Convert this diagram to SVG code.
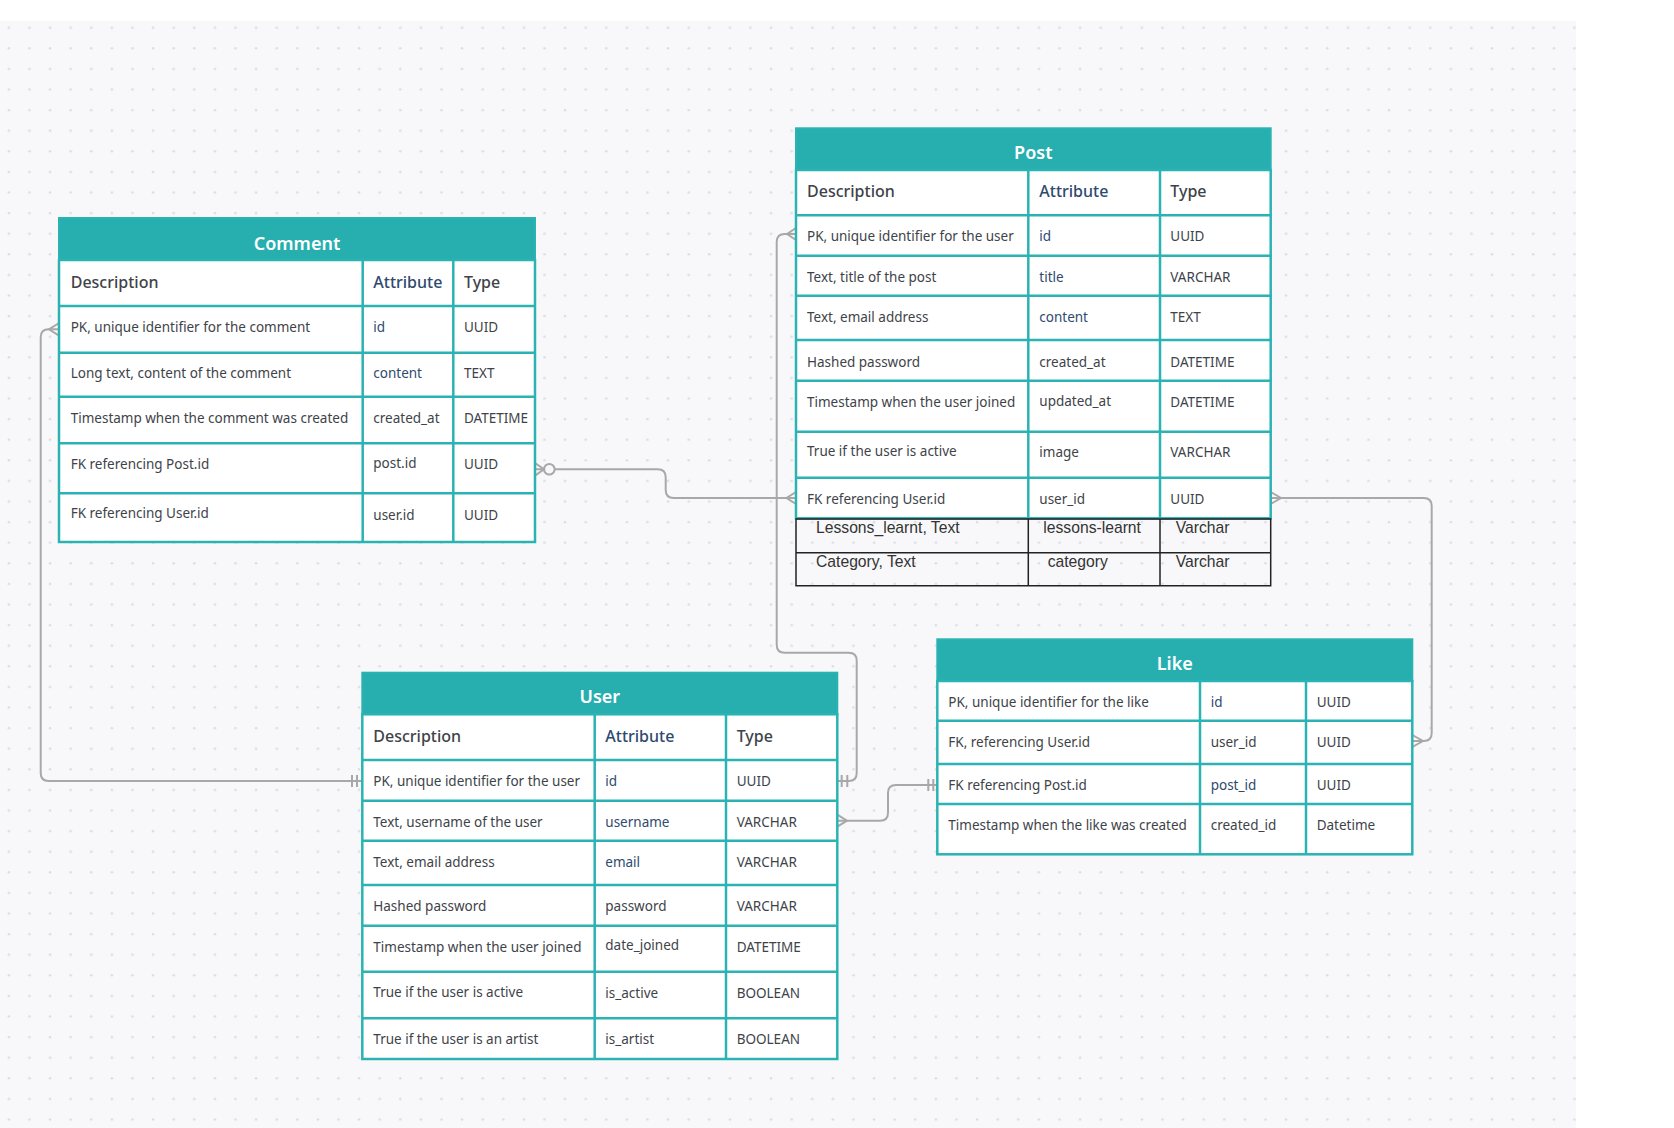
<svg xmlns="http://www.w3.org/2000/svg" width="1674" height="1128" viewBox="0 0 1674 1128">
<defs>
<pattern id="dots" x="0" y="0" width="20.6" height="20.6" patternUnits="userSpaceOnUse">
<circle cx="8.9" cy="7.1" r="1.3" fill="#dcdde3"/>
</pattern>
<style>
.hdr{fill:#27afaf;stroke:#2bb3b3;stroke-width:2}
.body{fill:#ffffff;stroke:#2bb3b3;stroke-width:2.5}
.grid{stroke:#2bb3b3;stroke-width:2.5;fill:none}
.blk{stroke:#222;stroke-width:1.5;fill:none}
.title{font-family:"Noto Sans","Open Sans",sans-serif;font-size:18px;font-weight:600;fill:#ffffff;text-anchor:middle}
.th{font-family:"Noto Sans","Open Sans",sans-serif;font-size:16px;font-weight:500;fill:#3e4349}
.td{font-family:"Noto Sans","Open Sans",sans-serif;font-size:13.5px;fill:#3e4349}
.b{fill:#2e4a6e}
.ar{font-family:"Liberation Sans",Arial,sans-serif;font-size:15.7px;fill:#333}
.conn{fill:none;stroke:#a8a8a8;stroke-width:2}
</style>
</defs>
<rect x="0" y="0" width="1674" height="1128" fill="#ffffff"/>
<rect x="0" y="20.7" width="1576" height="1108" fill="#f8f8fa"/>
<rect x="0" y="20.7" width="1576" height="1108" fill="url(#dots)"/>

<g id="connectors">
<!-- Comment.id - User.id -->
<path class="conn" d="M59,329.3 H48.7 Q40.7,329.3 40.7,337.3 V773 Q40.7,781 48.7,781 H362.3"/>
<path class="conn" d="M59,323 L49,329.3 L59,335.6"/>
<path class="conn" d="M352,775 V787 M357,775 V787"/>
<!-- Comment.post_id - Post.user_id -->
<path class="conn" d="M535,469.3 H544 M554.6,469.3 H657.7 Q665.7,469.3 665.7,477.3 V490 Q665.7,498 673.7,498 H796"/>
<path class="conn" d="M535,463 L544,469.3 L535,475.6"/>
<circle class="conn" cx="549.3" cy="469.3" r="5.3"/>
<path class="conn" d="M796,492 L786.5,498 L796,504"/>
<!-- Post.id - User.id -->
<path class="conn" d="M796,234 H784.7 Q776.7,234 776.7,242 V644.7 Q776.7,652.7 784.7,652.7 H848.7 Q856.7,652.7 856.7,660.7 V773 Q856.7,781 848.7,781 H837.3"/>
<path class="conn" d="M796,228 L787,234 L796,240"/>
<path class="conn" d="M841.7,775 V787 M847.3,775 V787"/>
<!-- User.username - Like.post_id -->
<path class="conn" d="M837.3,820.7 H880 Q888,820.7 888,812.7 V793 Q888,785 896,785 H937.3"/>
<path class="conn" d="M837.3,814.7 L847,820.7 L837.3,826.7"/>
<path class="conn" d="M928.3,779 V791 M933.3,779 V791"/>
<!-- Post.user_id - Like.user_id -->
<path class="conn" d="M1270.7,498 H1423.7 Q1431.7,498 1431.7,506 V733 Q1431.7,741 1423.7,741 H1412.3"/>
<path class="conn" d="M1270.7,492 L1281,498 L1270.7,504"/>
<path class="conn" d="M1412.3,735 L1423,741 L1412.3,747"/>
</g>

<g id="comment">
<rect class="hdr" x="59" y="218" width="476" height="42"/>
<rect class="body" x="59" y="260" width="476" height="282"/>
<path class="grid" d="M59,306 H535 M59,352.7 H535 M59,396.7 H535 M59,443.3 H535 M59,493.3 H535 M362.7,260 V542 M453.3,260 V542"/>
<text class="title" x="297" y="249.8">Comment</text>
<text class="th" x="70.7" y="287.5">Description</text>
<text class="th b" x="373.3" y="287.5">Attribute</text>
<text class="th" x="464" y="287.5">Type</text>
<text class="td" x="70.7" y="332">PK, unique identifier for the comment</text>
<text class="td b" x="373.3" y="332">id</text>
<text class="td" x="464" y="332">UUID</text>
<text class="td" x="70.7" y="378.2">Long text, content of the comment</text>
<text class="td b" x="373.3" y="378.2">content</text>
<text class="td" x="464" y="378.2">TEXT</text>
<text class="td" x="70.7" y="423.2">Timestamp when the comment was created</text>
<text class="td" x="373.3" y="423.2">created_at</text>
<text class="td" x="464" y="423.2">DATETIME</text>
<text class="td" x="70.7" y="469.2">FK referencing Post.id</text>
<text class="td" x="373.3" y="468.2">post.id</text>
<text class="td" x="464" y="469.2">UUID</text>
<text class="td" x="70.7" y="518.2">FK referencing User.id</text>
<text class="td" x="373.3" y="519.9">user.id</text>
<text class="td" x="464" y="519.9">UUID</text>
</g>

<g id="post">
<rect class="hdr" x="796" y="128.3" width="474.7" height="41.7"/>
<rect class="body" x="796" y="170" width="474.7" height="348.3"/>
<path class="grid" d="M796,215.3 H1270.7 M796,255.7 H1270.7 M796,295.7 H1270.7 M796,340 H1270.7 M796,380.7 H1270.7 M796,431.7 H1270.7 M796,477.7 H1270.7 M1028.3,170 V518.3 M1160,170 V518.3"/>
<path class="blk" d="M796,519 H1270.7 V585.7 H796 Z M796,552.7 H1270.7 M1028.3,519 V585.7 M1160,519 V585.7"/>
<text class="title" x="1033.3" y="159.2">Post</text>
<text class="th" x="807" y="196.8">Description</text>
<text class="th b" x="1039.3" y="196.8">Attribute</text>
<text class="th" x="1170.3" y="196.8">Type</text>
<text class="td" x="807" y="241">PK, unique identifier for the user</text>
<text class="td b" x="1039.3" y="241">id</text>
<text class="td" x="1170.3" y="241">UUID</text>
<text class="td" x="807" y="281.6">Text, title of the post</text>
<text class="td b" x="1039.3" y="281.6">title</text>
<text class="td" x="1170.3" y="281.6">VARCHAR</text>
<text class="td" x="807" y="322.2">Text, email address</text>
<text class="td b" x="1039.3" y="322.2">content</text>
<text class="td" x="1170.3" y="322.2">TEXT</text>
<text class="td" x="807" y="366.6">Hashed password</text>
<text class="td" x="1039.3" y="366.6">created_at</text>
<text class="td" x="1170.3" y="366.6">DATETIME</text>
<text class="td" x="807" y="406.9">Timestamp when the user joined</text>
<text class="td" x="1039.3" y="405.6">updated_at</text>
<text class="td" x="1170.3" y="406.9">DATETIME</text>
<text class="td" x="807" y="455.6">True if the user is active</text>
<text class="td" x="1039.3" y="457.2">image</text>
<text class="td" x="1170.3" y="456.9">VARCHAR</text>
<text class="td" x="807" y="503.6">FK referencing User.id</text>
<text class="td" x="1039.3" y="503.6">user_id</text>
<text class="td" x="1170.3" y="503.6">UUID</text>
<text class="ar" x="816" y="533">Lessons_learnt, Text</text>
<text class="ar" x="1043.3" y="533">lessons-learnt</text>
<text class="ar" x="1175.7" y="533">Varchar</text>
<text class="ar" x="816" y="566.5">Category, Text</text>
<text class="ar" x="1047.7" y="566.5">category</text>
<text class="ar" x="1175.7" y="566.5">Varchar</text>
</g>

<g id="user">
<rect class="hdr" x="362.3" y="672.7" width="475" height="41.6"/>
<rect class="body" x="362.3" y="714.3" width="475" height="344.7"/>
<path class="grid" d="M362.3,760 H837.3 M362.3,800.7 H837.3 M362.3,840.7 H837.3 M362.3,885 H837.3 M362.3,925.7 H837.3 M362.3,971.7 H837.3 M362.3,1018.3 H837.3 M594.7,714.3 V1059 M726,714.3 V1059"/>
<text class="title" x="599.8" y="703.3">User</text>
<text class="th" x="373.3" y="741.5">Description</text>
<text class="th b" x="605.3" y="741.5">Attribute</text>
<text class="th" x="736.7" y="741.5">Type</text>
<text class="td" x="373.3" y="785.9">PK, unique identifier for the user</text>
<text class="td b" x="605.3" y="785.9">id</text>
<text class="td" x="736.7" y="785.9">UUID</text>
<text class="td" x="373.3" y="826.6">Text, username of the user</text>
<text class="td b" x="605.3" y="826.6">username</text>
<text class="td" x="736.7" y="826.6">VARCHAR</text>
<text class="td" x="373.3" y="866.9">Text, email address</text>
<text class="td b" x="605.3" y="866.9">email</text>
<text class="td" x="736.7" y="866.9">VARCHAR</text>
<text class="td" x="373.3" y="911.2">Hashed password</text>
<text class="td" x="605.3" y="911.2">password</text>
<text class="td" x="736.7" y="911.2">VARCHAR</text>
<text class="td" x="373.3" y="951.6">Timestamp when the user joined</text>
<text class="td" x="605.3" y="950.2">date_joined</text>
<text class="td" x="736.7" y="951.6">DATETIME</text>
<text class="td" x="373.3" y="996.6">True if the user is active</text>
<text class="td" x="605.3" y="997.9">is_active</text>
<text class="td" x="736.7" y="997.9">BOOLEAN</text>
<text class="td" x="373.3" y="1044.2">True if the user is an artist</text>
<text class="td" x="605.3" y="1044.2">is_artist</text>
<text class="td" x="736.7" y="1044.2">BOOLEAN</text>
</g>

<g id="like">
<rect class="hdr" x="937.3" y="639.3" width="475" height="41.7"/>
<rect class="body" x="937.3" y="681" width="475" height="173.3"/>
<path class="grid" d="M937.3,720.7 H1412.3 M937.3,764 H1412.3 M937.3,804 H1412.3 M1200,681 V854.3 M1306,681 V854.3"/>
<text class="title" x="1174.8" y="669.8">Like</text>
<text class="td" x="948.3" y="706.6">PK, unique identifier for the like</text>
<text class="td b" x="1210.7" y="706.6">id</text>
<text class="td" x="1316.7" y="706.6">UUID</text>
<text class="td" x="948.3" y="746.9">FK, referencing User.id</text>
<text class="td" x="1210.7" y="746.9">user_id</text>
<text class="td" x="1316.7" y="746.9">UUID</text>
<text class="td" x="948.3" y="790.2">FK referencing Post.id</text>
<text class="td b" x="1210.7" y="790.2">post_id</text>
<text class="td" x="1316.7" y="790.2">UUID</text>
<text class="td" x="948.3" y="830.2">Timestamp when the like was created</text>
<text class="td" x="1210.7" y="830.2">created_id</text>
<text class="td" x="1316.7" y="830.2">Datetime</text>
</g>
</svg>
